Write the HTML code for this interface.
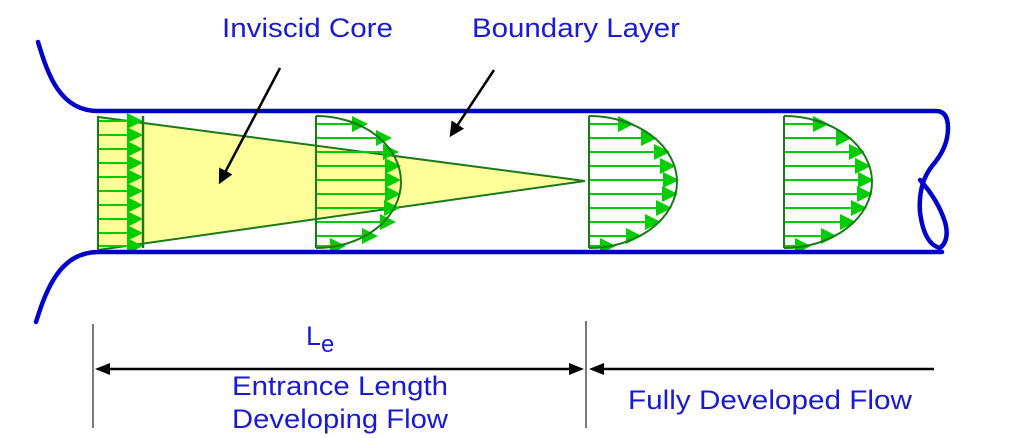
<!DOCTYPE html>
<html><head><style>
html,body{margin:0;padding:0;background:#fff;}
svg{display:block;}
text{font-family:"Liberation Sans",sans-serif;fill:#1a1ad0;font-size:27px;}
</style></head><body>
<svg width="1024" height="438" viewBox="0 0 1024 438" xmlns="http://www.w3.org/2000/svg">
<defs>
<marker id="g" markerWidth="8" markerHeight="8" refX="7" refY="4" orient="auto" markerUnits="strokeWidth"><path d="M0,0 L8,4 L0,8 z" fill="#00cc00"/></marker>
<marker id="k" markerWidth="6" markerHeight="6" refX="5" refY="3" orient="auto" markerUnits="strokeWidth"><path d="M0,0 L6,3 L0,6 z" fill="#000"/></marker>
</defs>
<polygon points="98,116 585,181 143,244 98,250" fill="#ffff99"/>
<line x1="98" y1="117" x2="585" y2="181" stroke="#1a7a1a" stroke-width="2"/>
<line x1="98" y1="250" x2="585" y2="181" stroke="#1a7a1a" stroke-width="2"/>
<g stroke="#00cc00" stroke-width="2" marker-end="url(#g)">
<line x1="98" y1="121" x2="141" y2="121"/><line x1="98" y1="135" x2="141" y2="135"/>
<line x1="98" y1="149" x2="141" y2="149"/><line x1="98" y1="163" x2="141" y2="163"/>
<line x1="98" y1="177" x2="141" y2="177"/><line x1="98" y1="191" x2="141" y2="191"/>
<line x1="98" y1="205" x2="141" y2="205"/><line x1="98" y1="219" x2="141" y2="219"/>
<line x1="98" y1="233" x2="141" y2="233"/><line x1="98" y1="246" x2="141" y2="246"/>
</g>
<line x1="98" y1="116" x2="98" y2="250" stroke="#1a7a1a" stroke-width="2"/>
<line x1="143" y1="116" x2="143" y2="248" stroke="#1a7a1a" stroke-width="2.5"/>
<g stroke="#00cc00" stroke-width="2" marker-end="url(#g)">
<line x1="316" y1="124" x2="366" y2="124"/><line x1="316" y1="138" x2="390" y2="138"/>
<line x1="316" y1="152" x2="397" y2="152"/><line x1="316" y1="166" x2="399" y2="166"/>
<line x1="316" y1="180" x2="399" y2="180"/><line x1="316" y1="194" x2="399" y2="194"/>
<line x1="316" y1="208" x2="398" y2="208"/><line x1="316" y1="222" x2="394" y2="222"/>
<line x1="316" y1="236" x2="376" y2="236"/><line x1="316" y1="246" x2="344" y2="246"/>
</g>
<path d="M316,116 A85,66 0 0 1 316,248" fill="none" stroke="#1a7a1a" stroke-width="2"/>
<line x1="316" y1="116" x2="316" y2="248" stroke="#1a7a1a" stroke-width="2"/>
<g stroke="#00cc00" stroke-width="2" marker-end="url(#g)">
<line x1="589" y1="124" x2="632" y2="124"/><line x1="589" y1="138" x2="655" y2="138"/>
<line x1="589" y1="152" x2="668" y2="152"/><line x1="589" y1="166" x2="674" y2="166"/>
<line x1="589" y1="180" x2="677" y2="180"/><line x1="589" y1="194" x2="676" y2="194"/>
<line x1="589" y1="208" x2="670" y2="208"/><line x1="589" y1="222" x2="659" y2="222"/>
<line x1="589" y1="236" x2="640" y2="236"/><line x1="589" y1="246" x2="614" y2="246"/>
</g>
<path d="M589,116 A88,66 0 0 1 589,248" fill="none" stroke="#1a7a1a" stroke-width="2"/>
<line x1="589" y1="116" x2="589" y2="248" stroke="#1a7a1a" stroke-width="2"/>
<g stroke="#00cc00" stroke-width="2" marker-end="url(#g)">
<line x1="784" y1="124" x2="827" y2="124"/><line x1="784" y1="138" x2="850" y2="138"/>
<line x1="784" y1="152" x2="863" y2="152"/><line x1="784" y1="166" x2="869" y2="166"/>
<line x1="784" y1="180" x2="872" y2="180"/><line x1="784" y1="194" x2="871" y2="194"/>
<line x1="784" y1="208" x2="865" y2="208"/><line x1="784" y1="222" x2="854" y2="222"/>
<line x1="784" y1="236" x2="835" y2="236"/><line x1="784" y1="246" x2="809" y2="246"/>
</g>
<path d="M784,116 A88,66 0 0 1 784,248" fill="none" stroke="#1a7a1a" stroke-width="2"/>
<line x1="784" y1="116" x2="784" y2="248" stroke="#1a7a1a" stroke-width="2"/>
<g fill="none" stroke="#0000cc" stroke-width="4.5" stroke-linecap="round">
<path d="M38,42 C48,75 60,111 98,111 L936,111 Q948,111 948,128 Q948,148 932,166 Q918,184 920,212 Q924,244 940,248 Q950,240 945,222 Q938,200 920,180"/>
<path d="M36,322 C46,290 60,252 98,252 L942,252"/>
</g>
<line x1="280" y1="68" x2="220" y2="182" stroke="#000" stroke-width="2.5" marker-end="url(#k)"/>
<line x1="494" y1="70" x2="451" y2="135" stroke="#000" stroke-width="2.5" marker-end="url(#k)"/>
<text x="222" y="37" textLength="171" lengthAdjust="spacingAndGlyphs">Inviscid Core</text>
<text x="472" y="37" textLength="208" lengthAdjust="spacingAndGlyphs">Boundary Layer</text>
<line x1="93" y1="324" x2="93" y2="428" stroke="#222" stroke-width="1.2"/>
<line x1="586" y1="321" x2="586" y2="428" stroke="#222" stroke-width="1.2"/>
<g stroke="#000" stroke-width="2.5">
<line x1="100" y1="369" x2="580" y2="369"/>
<line x1="594" y1="369" x2="934" y2="369"/>
</g>
<path d="M95,369 L110,363 L110,375 z" fill="#000"/>
<path d="M584,369 L569,363 L569,375 z" fill="#000"/>
<path d="M589,369 L604,363 L604,375 z" fill="#000"/>
<text x="306" y="345">L<tspan font-size="24" dy="7">e</tspan></text>
<text x="232" y="395" textLength="216" lengthAdjust="spacingAndGlyphs">Entrance Length</text>
<text x="232" y="428" textLength="216" lengthAdjust="spacingAndGlyphs">Developing Flow</text>
<text x="628" y="409" textLength="284" lengthAdjust="spacingAndGlyphs">Fully Developed Flow</text>
</svg>
</body></html>
